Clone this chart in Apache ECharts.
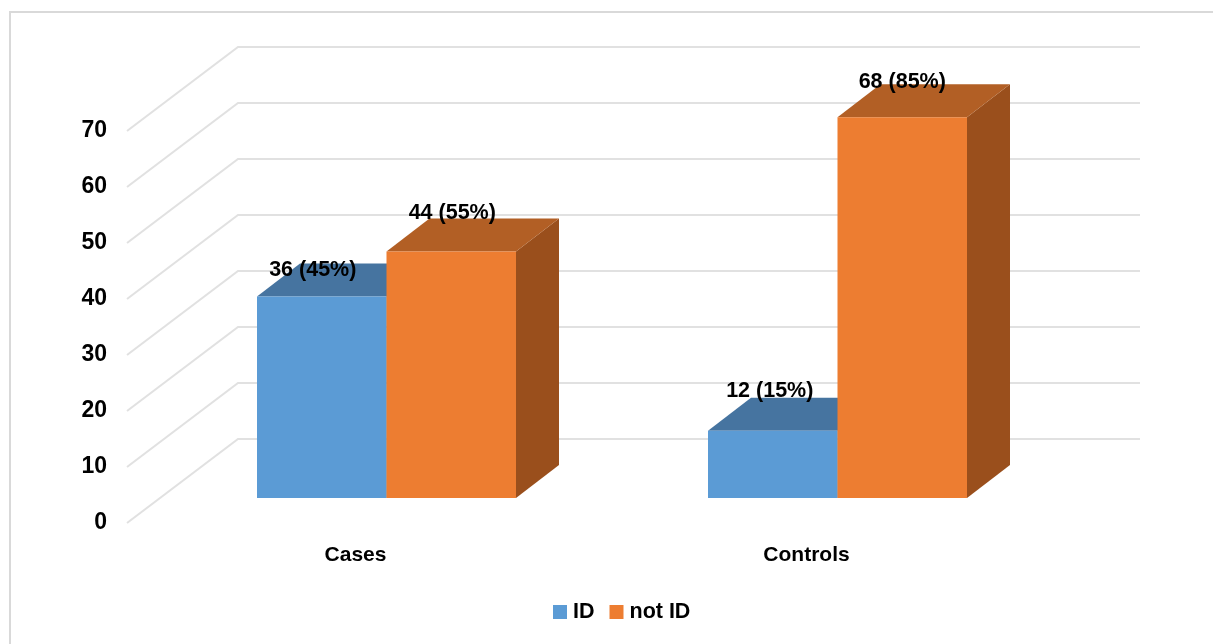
<!DOCTYPE html>
<html><head><meta charset="utf-8">
<style>html,body{margin:0;padding:0;background:#fff}#c{width:1213px;height:644px}</style>
<script src="https://cdn.jsdelivr.net/npm/echarts@6/dist/echarts.min.js"></script>
</head><body><div id="c"></div>
<script>
const categories = ['Cases', 'Controls'];
const yTicks = [0, 10, 20, 30, 40, 50, 60, 70];
const idValues = [36, 12];
const idPercents = [45, 15];
const notIdValues = [44, 68];
const notIdPercents = [55, 85];

const FONT = '"Liberation Sans", Arial, sans-serif';
const WALL = { dx: 108, dy: -84, lead: 3 };
const BAR = { dx: 31, dy: -25, depthX: 43, depthY: -33, widthFrac: 129.5 / 451 };
const chart = echarts.init(document.getElementById('c'), null, { renderer: 'canvas' });

function wallItem(params, api) {
  const y = api.coord([0, api.value(1)])[1];
  const g = params.coordSys;
  return {
    type: 'polyline', silent: true,
    shape: { points: [[g.x - WALL.lead, y], [g.x + WALL.dx, y + WALL.dy], [g.x + g.width + WALL.dx, y + WALL.dy]] },
    style: { fill: null, stroke: '#e1e1e1', lineWidth: 2 }
  };
}

function barRenderer(side, front, top, right, percents, nudges) {
  return function (params, api) {
    const cat = api.value(0), val = api.value(1);
    const band = api.size([1, 0])[0];
    const w = band * BAR.widthFrac;
    const t = api.coord([cat, val]), b = api.coord([cat, 0]);
    const x0 = t[0] + BAR.dx + (side < 0 ? -w : 0), x1 = x0 + w;
    const yT = t[1] + BAR.dy, yB = b[1] + BAR.dy;
    const ox = BAR.depthX, oy = BAR.depthY;
    const n = nudges[cat];
    return {
      type: 'group',
      children: [
        { type: 'polygon', shape: { points: [[x1, yT], [x1 + ox, yT + oy], [x1 + ox, yB + oy], [x1, yB]] }, style: { fill: right } },
        { type: 'polygon', shape: { points: [[x0, yT], [x0 + ox, yT + oy], [x1 + ox, yT + oy], [x1, yT]] }, style: { fill: top } },
        { type: 'rect', shape: { x: x0, y: yT, width: w, height: yB - yT }, style: { fill: front } },
        { type: 'text', z2: 100, style: {
            x: x0 + w / 2 + n[0], y: yT + n[1],
            text: val + ' (' + percents[cat] + '%)',
            font: 'bold 21.5px ' + FONT, fill: '#000', align: 'center', verticalAlign: 'middle'
        } }
      ]
    };
  };
}

chart.setOption({
  animation: false,
  backgroundColor: '#fff',
  graphic: [{
    type: 'rect', z: -10, silent: true,
    shape: { x: 10, y: 12, width: 1400, height: 800 },
    style: { fill: '#fff', stroke: '#d9d9d9', lineWidth: 2 }
  }],
  grid: { left: 130, top: 131, width: 902, height: 392 },
  legend: {
    data: ['ID', 'not ID'], left: 548, top: 596,
    icon: 'rect', itemWidth: 14, itemHeight: 14, itemGap: 15, selectedMode: false,
    textStyle: { fontFamily: FONT, fontWeight: 'bold', fontSize: 21.5, color: '#000', padding: [0, 0, 0, 1] }
  },
  xAxis: {
    type: 'category', data: categories,
    axisLine: { show: false }, axisTick: { show: false }, splitLine: { show: false },
    axisLabel: { margin: 22, fontFamily: FONT, fontWeight: 'bold', fontSize: 21, color: '#000' }
  },
  yAxis: {
    type: 'value', min: 0, max: 70, interval: 10,
    axisLine: { show: false }, axisTick: { show: false }, splitLine: { show: false },
    axisLabel: { margin: 23, padding: [5, 0, 0, 0], lineHeight: 27, fontFamily: FONT, fontWeight: 'bold', fontSize: 23, color: '#000' }
  },
  series: [
    { name: 'walls', type: 'custom', silent: true, z: 1, renderItem: wallItem, clip: false,
      data: yTicks.map(t => [0, t]), encode: { x: 0, y: 1 } },
    { name: 'ID', type: 'custom', z: 2, clip: false, itemStyle: { color: '#5B9BD5' },
      renderItem: barRenderer(-1, '#5B9BD5', '#4674A0', '#3F6A92', idPercents, [[-9, -26], [-3, -40]]),
      data: idValues.map((v, i) => [i, v]), encode: { x: 0, y: 1 } },
    { name: 'not ID', type: 'custom', z: 3, clip: false, itemStyle: { color: '#ED7D31' },
      renderItem: barRenderer(1, '#ED7D31', '#B25F25', '#9A4F1C', notIdPercents, [[1, -39], [0, -35]]),
      data: notIdValues.map((v, i) => [i, v]), encode: { x: 0, y: 1 } }
  ]
});
</script></body></html>
